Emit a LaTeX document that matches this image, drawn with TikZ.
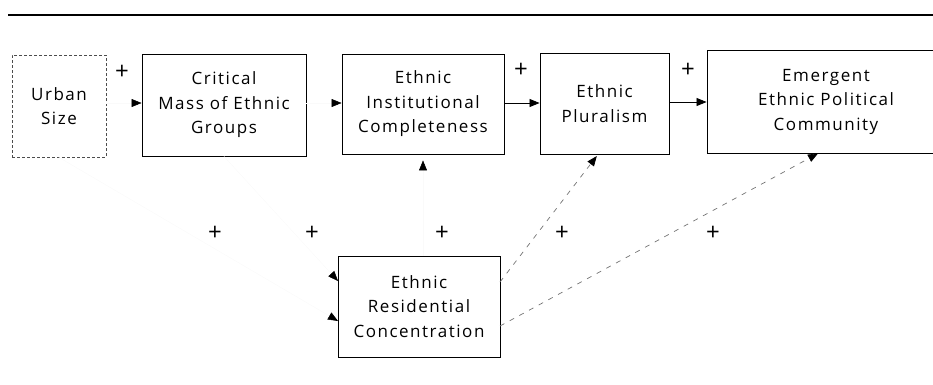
\documentclass[tikz,border=0pt]{standalone}
\usepackage{fontspec}
\setmainfont{Open Sans}[LetterSpace=9]
\usetikzlibrary{arrows.meta}
\begin{document}
\begin{tikzpicture}[x=1pt,y=-1pt,
  box/.style={draw=black,line width=0.9pt,inner sep=0pt,align=center,
    font=\fontsize{17}{24.5}\selectfont},
  plus/.style={font=\fontsize{24}{24}\selectfont,inner sep=0pt},
  tip/.style={-{Triangle[length=10pt,width=8pt,color=black]}},
  faint/.style={tip,draw=black!2,line width=0.5pt},
  link/.style={tip,draw=black,line width=0.8pt},
  dashlink/.style={tip,draw=black!55,line width=0.7pt,dash pattern=on 5pt off 6pt}]
\useasboundingbox (0,0) rectangle (933,384);

% heading rule
\draw[line width=1.6pt] (8,15) -- (933,15);

% the six boxes
\node[box,draw=black!70,densely dashed,minimum width=94pt,minimum height=102pt]
  (urban) at (59,106) {Urban\\Size};
\node[box,minimum width=164pt,minimum height=102pt]
  (crit) at (224,105) {Critical\\Mass of Ethnic\\Groups};
\node[box,minimum width=162pt,minimum height=100pt]
  (eic) at (423,104) {Ethnic\\Institutional\\Completeness};
\node[box,minimum width=129pt,minimum height=101pt]
  (plur) at (604.5,103.5) {Ethnic\\Pluralism};
\node[box,minimum width=238pt,minimum height=103pt]
  (emerg) at (826,101.5) {Emergent\\Ethnic Political\\Community};
\node[box,minimum width=162pt,minimum height=101pt]
  (erc) at (419,306.5) {Ethnic\\Residential\\Concentration};

% chain along the top row
\draw[faint] (urban.east |- 0,103) -- (crit.west |- 0,103);
\draw[faint] (crit.east |- 0,103) -- (eic.west |- 0,103);
\draw[link] (eic.east |- 0,103) -- (plur.west |- 0,103);
\draw[link] (plur.east |- 0,102) -- (emerg.west |- 0,102);

% links into and out of the residential concentration box
\coordinate (ercA) at (338,281);
\coordinate (ercB) at (338,321);
\coordinate (ercC) at (500,282);
\coordinate (ercD) at (500,326);
\draw[faint] (urban.south) -- (ercB);
\draw[faint] (crit.south) -- (ercA);
\draw[faint,shorten >=6pt] (erc.north -| eic.south) -- (eic.south);
\draw[dashlink,shorten >=2pt] (ercC) -- (plur.south -| 598,0);
\draw[dashlink] (ercD) -- (emerg.south -| 818,0);

% signs
\node[plus] (p1) at (122,72) {+};
\node[plus] (p2) at (521,70) {+};
\node[plus] (p3) at (688,70) {+};
\node[plus] (p4) at (215,233) {+};
\node[plus] (p5) at (312,233) {+};
\node[plus] (p6) at (442,233) {+};
\node[plus] (p7) at (562,233) {+};
\node[plus] (p8) at (713,233) {+};
\end{tikzpicture}
\end{document}
